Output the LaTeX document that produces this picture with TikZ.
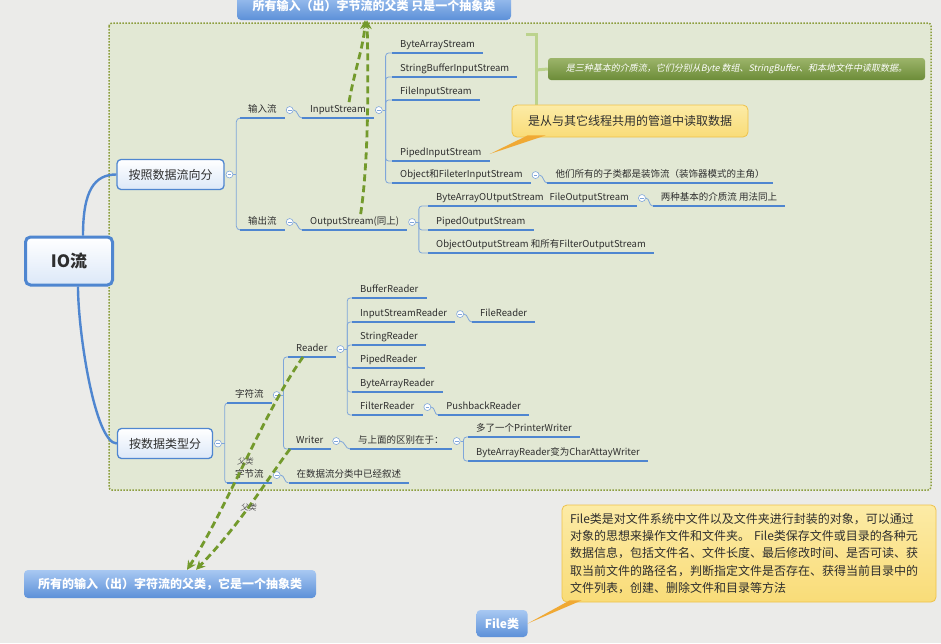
\documentclass[tikz,border=0pt]{standalone}
\usepackage{fontspec}
\setmainfont{Noto Sans CJK SC}
\newfontfamily\slantcjk{Noto Sans CJK SC}[FakeSlant=0.2]
\usetikzlibrary{positioning,arrows.meta}

\definecolor{paper}{HTML}{EBEBE9}
\definecolor{pane}{HTML}{E2E8D4}
\definecolor{olive}{HTML}{8C9E3E}
\definecolor{lineblue}{HTML}{4F86D0}
\definecolor{twigblue}{HTML}{7FA6DA}
\definecolor{topicfill}{HTML}{DCE8F8}
\definecolor{boxtop}{HTML}{A8C8F2}
\definecolor{boxbot}{HTML}{5C90D8}
\definecolor{noteyel}{HTML}{FCEBA6}
\definecolor{noteyel2}{HTML}{F9DC78}
\definecolor{noteedge}{HTML}{EEC24A}
\definecolor{noteorange}{HTML}{F0A934}
\definecolor{arrowgreen}{HTML}{739A2C}
\definecolor{tipgreen1}{HTML}{9CB46A}
\definecolor{tipgreen2}{HTML}{6C8C38}
\definecolor{bracegreen}{HTML}{BCD38E}
\definecolor{ink}{HTML}{2E2E2E}
\definecolor{labelgray}{HTML}{555555}

\begin{document}
\begin{tikzpicture}[
    x=1pt, y=-1pt,
    leaf/.style={anchor=south west, inner xsep=8pt, inner ysep=3pt,
      text height=7pt, text depth=2.5pt, text=ink,
      font=\fontsize{9.5}{11}\selectfont},
    foldmark/.style={circle, draw=twigblue, fill=white, line width=0.6pt,
      minimum size=7pt, inner sep=0pt,
      path picture={\draw[twigblue, line width=0.6pt]
        ([xshift=-1.8pt]path picture bounding box.center) --
        ([xshift=1.8pt]path picture bounding box.center);}},
    uline/.style={draw=lineblue, line width=1.8pt},
    twig/.style={draw=twigblue, line width=0.8pt},
    trunk/.style={draw=lineblue, line width=2.4pt},
    topic/.style={draw=lineblue, line width=1.3pt, rounded corners=4pt,
      top color=white, bottom color=topicfill, text=ink,
      font=\fontsize{12}{14}\selectfont},
    classbox/.style={rounded corners=4pt, top color=boxtop, bottom color=boxbot,
      text=white, font=\bfseries\fontsize{12}{14}\selectfont},
    notebox/.style={draw=noteedge, line width=0.8pt, rounded corners=5pt,
      top color=noteyel, bottom color=noteyel2, text=ink},
    medianote/.style={rounded corners=3pt, top color=tipgreen1, bottom color=tipgreen2,
      text=white, font=\slantcjk\fontsize{9}{10}\selectfont},
    parentarrow/.style={draw=arrowgreen, line width=2.8pt,
      dash pattern=on 7pt off 4pt, -{Stealth[length=9pt,width=9pt]}},
    parentlabel/.style={text=labelgray, font=\slantcjk\fontsize{8}{9}\selectfont,
      inner sep=1pt}
  ]
  \fill[paper] (0,0) rectangle (941,643);
  \useasboundingbox (0,0) rectangle (941,643);

  % dotted pane
  \draw[draw=olive, line width=1.5pt, dash pattern=on 1.5pt off 1.5pt,
    fill=pane, rounded corners=3pt] (109,23) rectangle (931,490);

  % main topics
  \node[topic, line width=3pt, rounded corners=5pt, minimum width=87, minimum height=48,
    font=\bfseries\fontsize{17}{20}\selectfont] (nIO) at (69,261) {IO流};
  \node[topic, minimum width=107, minimum height=30] (nFlow) at (170.5,174.5) {按照数据流向分};
  \node[topic, minimum width=95, minimum height=30] (nType) at (165,443.5) {按数据类型分};
  \node[foldmark, right=1pt of nFlow] (fFlow) {};
  \node[foldmark, right=1pt of nType] (fType) {};

  \draw[trunk] ([xshift=14pt]nIO.north) .. controls +(0,-45) and +(-22,0) .. (nFlow.west);
  \draw[trunk] ([xshift=9pt]nIO.south) .. controls +(0,45) and +(-22,0) .. (nType.west);

  % by direction
  \node[leaf] (tIn) at (240,118) {输入流};
  \node[foldmark, right=1pt of tIn] (fIn) {};
  \node[leaf, right=8.5pt of fIn] (tInS) {InputStream};
  \node[foldmark, right=1pt of tInS] (fInS) {};
  \node[leaf] (tBA) at (392,53) {ByteArrayStream};
  \node[leaf] (tSB) at (392,77) {StringBufferInputStream};
  \node[leaf] (tFI) at (392,100) {FileInputStream};
  \node[leaf] (tPI) at (392,161) {PipedInputStream};
  \node[leaf] (tOF) at (392,183) {Object和FileterInputStream};
  \node[foldmark, right=1pt of tOF] (fOF) {};
  \node[leaf, right=8pt of fOF] (tDeco) {他们所有的子类都是装饰流（装饰器模式的主角）};

  \node[leaf] (tOut) at (240,230) {输出流};
  \node[foldmark, right=1pt of tOut] (fOut) {};
  \node[leaf, right=8.5pt of fOut] (tOutS) {OutputStream(同上)};
  \node[foldmark, right=1pt of tOutS] (fOutS) {};
  \node[leaf] (tBAO) at (428,206) {ByteArrayOUtputStream\hspace{6pt}FileOutputStream};
  \node[foldmark, right=1pt of tBAO] (fBAO) {};
  \node[leaf, right=7pt of fBAO] (tMedia) {两种基本的介质流 用法同上};
  \node[leaf] (tPO) at (428,230) {PipedOutputStream};
  \node[leaf] (tOO) at (428,253) {ObjectOutputStream 和所有FilterOutputStream};

  % by data type
  \node[leaf] (tChar) at (227,403) {字符流};
  \node[foldmark, right=1pt of tChar] (fChar) {};
  \node[leaf] (tReader) at (288,357) {Reader};
  \node[foldmark, right=1pt of tReader] (fReader) {};
  \node[leaf] (tBR) at (352,298) {BufferReader};
  \node[leaf] (tISR) at (352,322) {InputStreamReader};
  \node[foldmark, right=1pt of tISR] (fISR) {};
  \node[leaf, right=8pt of fISR] (tFR) {FileReader};
  \node[leaf] (tSR) at (352,345) {StringReader};
  \node[leaf] (tPR) at (352,368) {PipedReader};
  \node[leaf] (tBAR) at (352,392) {ByteArrayReader};
  \node[leaf] (tFtR) at (352,415) {FilterReader};
  \node[foldmark, right=1pt of tFtR] (fFtR) {};
  \node[leaf, right=7pt of fFtR] (tPush) {PushbackReader};
  \node[leaf] (tWriter) at (288,449) {Writer};
  \node[foldmark, right=1pt of tWriter] (fWriter) {};
  \node[leaf, right=10pt of fWriter] (tDiff) {与上面的区别在于：};
  \node[foldmark, right=1pt of tDiff] (fDiff) {};
  \node[leaf] (tPW) at (468,437) {多了一个PrinterWriter};
  \node[leaf] (tCAW) at (468,461) {ByteArrayReader变为CharAttayWriter};
  \node[leaf] (tByte) at (227,483) {字节流};
  \node[foldmark, right=1pt of tByte] (fByte) {};
  \node[leaf, right=8pt of fByte] (tDone) {在数据流分类中已经叙述};

  % branches
  \draw[twig] (fFlow.east) -- ++(3,0) coordinate (bFlow);
  \foreach \c in {tIn,tOut}
    \draw[twig, rounded corners=4pt] (bFlow) |- (\c.south west);
  \draw[twig] (fInS.east) -- ++(3,0) coordinate (bInS);
  \foreach \c in {tBA,tSB,tFI,tPI,tOF}
    \draw[twig, rounded corners=3pt] (bInS) |- (\c.south west);
  \draw[twig] (fOutS.east) -- ++(3,0) coordinate (bOutS);
  \foreach \c in {tBAO,tPO,tOO}
    \draw[twig, rounded corners=3pt] (bOutS) |- (\c.south west);
  \draw[twig] (fType.east) -- ++(3,0) coordinate (bType);
  \foreach \c in {tChar,tByte}
    \draw[twig, rounded corners=3pt] (bType) |- (\c.south west);
  \draw[twig] (fChar.east) -- ++(3,0) coordinate (bChar);
  \foreach \c in {tReader,tWriter}
    \draw[twig, rounded corners=3pt] (bChar) |- (\c.south west);
  \draw[twig] (fReader.east) -- ++(3,0) coordinate (bReader);
  \foreach \c in {tBR,tISR,tSR,tPR,tBAR,tFtR}
    \draw[twig, rounded corners=3pt] (bReader) |- (\c.south west);
  \draw[twig] (fDiff.east) -- ++(3,0) coordinate (bDiff);
  \foreach \c in {tPW,tCAW}
    \draw[twig, rounded corners=3pt] (bDiff) |- (\c.south west);
  \draw[twig] (fIn.east) to[out=0,in=180] (tInS.south west);
  \draw[twig] (fOut.east) to[out=0,in=180] (tOutS.south west);
  \draw[twig] (fOF.east) to[out=0,in=180] (tDeco.south west);
  \draw[twig] (fBAO.east) to[out=0,in=180] (tMedia.south west);
  \draw[twig] (fISR.east) to[out=0,in=180] (tFR.south west);
  \draw[twig] (fFtR.east) to[out=0,in=180] (tPush.south west);
  \draw[twig] (fWriter.east) to[out=0,in=180] (tDiff.south west);
  \draw[twig] (fByte.east) to[out=0,in=180] (tDone.south west);

  \foreach \n in {tIn,tInS,tBA,tSB,tFI,tPI,tOF,tDeco,tOut,tOutS,tBAO,tMedia,tPO,tOO,
      tChar,tReader,tBR,tISR,tFR,tSR,tPR,tBAR,tFtR,tPush,tWriter,tDiff,tPW,tCAW,tByte,tDone}
    \draw[uline] (\n.south west) -- (\n.south east);

  % notes
  \node[medianote, minimum width=377, minimum height=22] (nMedia) at (736.5,69)
    {是三种基本的介质流，它们分别从Byte 数组、StringBuffer、和本地文件中读取数据。};
  \draw[bracegreen, line width=3pt] (526,34) -- (536,34) -- (536,106) -- (526,106);
  \draw[bracegreen, line width=3pt] (536,70) -- (nMedia.west);

  \node[notebox, minimum width=236, minimum height=32, font=\fontsize{12}{14}\selectfont]
    (nPipe) at (630,121) {是从与其它线程共用的管道中读取数据};
  \fill[noteorange] ([xshift=16pt,yshift=2pt]nPipe.south west)
    -- ([xshift=34pt,yshift=2pt]nPipe.south west) -- ([yshift=7pt]tPI.south east) -- cycle;

  \node[classbox, minimum width=274, minimum height=28] (nByteTop) at (374,6)
    {所有输入（出）字节流的父类 只是一个抽象类};
  \node[classbox, minimum width=292, minimum height=28] (nCharTop) at (170,584)
    {所有的输入（出）字符流的父类，它是一个抽象类};
  \node[classbox, minimum width=51, minimum height=27] (nFileCls) at (502,623.5) {File类};

  \node[notebox, text width=358pt, align=left, inner xsep=8pt, minimum height=97,
    font=\fontsize{12}{17.3}\selectfont] (nFile) at (749,553.5)
    {File类是对文件系统中文件以及文件夹进行封装的对象，可以通过\\
     对象的思想来操作文件和文件夹。 File类保存文件或目录的各种元\\
     数据信息，包括文件名、文件长度、最后修改时间、是否可读、获\\
     取当前文件的路径名，判断指定文件是否存在、获得当前目录中的\\
     文件列表，创建、删除文件和目录等方法};
  \fill[noteorange] ([xshift=8pt,yshift=2pt]nFile.south west)
    -- ([xshift=20pt,yshift=2pt]nFile.south west) -- (nFileCls.east) -- cycle;

  % parent class arrows
  \draw[parentarrow] ([xshift=11pt]tInS.north) .. controls +(5,-30) and +(-1,25)
    .. ([xshift=-9pt]nByteTop.south);
  \draw[parentarrow] ([xshift=6pt]tOutS.north) .. controls +(9,-60) and +(1,40)
    .. ([xshift=-7pt]nByteTop.south);
  \draw[parentarrow] ([xshift=15pt]tReader.south west) .. controls +(-38,53) and +(38,-58)
    .. node[parentlabel, pos=0.5] {父类} ([xshift=17pt]nCharTop.north);
  \draw[parentarrow] ([xshift=2pt]tWriter.south west) .. controls +(-22,29) and +(44,-45)
    .. node[parentlabel, pos=0.53] {父类} ([xshift=26pt]nCharTop.north);
\end{tikzpicture}
\end{document}
